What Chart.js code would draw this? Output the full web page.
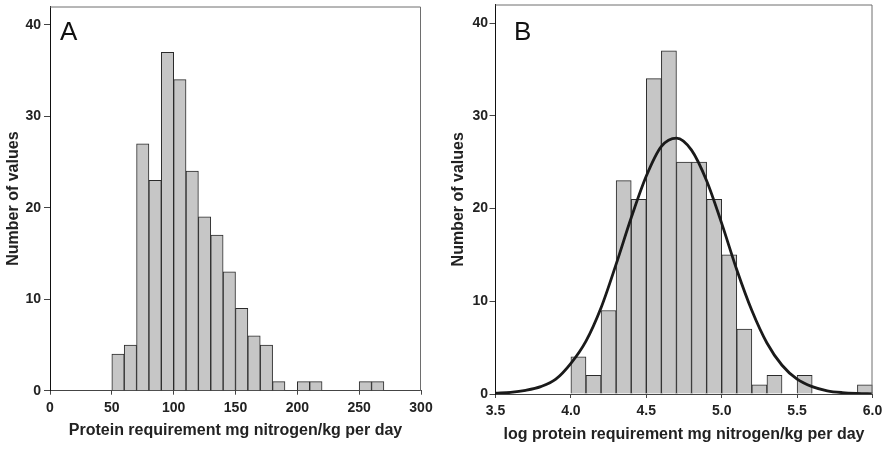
<!DOCTYPE html>
<html>
<head>
<meta charset="utf-8">
<script src="https://cdn.jsdelivr.net/npm/chart.js@4.4.1/dist/chart.umd.min.js"></script>
<style>
    body { margin: 0; background: #fff; }
    #contenedor { position: relative; width: 885px; height: 449px; }
    canvas { position: absolute; top: 0; }
    #graficaA { left: 0; }
    #graficaB { left: 442px; }
</style>
</head>
<body>
<div id="contenedor">
    <canvas id="graficaA" width="442" height="449"></canvas>
    <canvas id="graficaB" width="443" height="449"></canvas>
</div>
<script>
// Panel A: centros de cada intervalo (ancho 10) y numero de valores
const centrosA = [55, 65, 75, 85, 95, 105, 115, 125, 135, 145, 155, 165, 175, 185, 205, 215, 255, 265];
const conteosA = [4, 5, 27, 23, 37, 34, 24, 19, 17, 13, 9, 6, 5, 1, 1, 1, 1, 1];
const ejeXA = [0, 300, 50];   // min, max, paso

// Panel B: log del requerimiento (ancho 0.1)
const centrosB = [4.05, 4.15, 4.25, 4.35, 4.45, 4.55, 4.65, 4.75, 4.85, 4.95, 5.05, 5.15, 5.25, 5.35, 5.55, 5.95];
const conteosB = [4, 2, 9, 23, 21, 34, 37, 25, 25, 21, 15, 7, 1, 2, 2, 1];
const ejeXB = [3.5, 6.0, 0.5];

// Curva normal ajustada
const curvaX = [3.5, 3.6, 3.7, 3.8, 3.9, 4.0, 4.1, 4.2, 4.3, 4.4, 4.5, 4.6, 4.7, 4.8, 4.9, 5.0, 5.1, 5.2, 5.3, 5.4, 5.5, 5.6, 5.7, 5.8, 5.9, 6.0];
const curvaY = [0.08, 0.18, 0.4, 0.8, 1.6, 3.3, 5.7, 9.3, 14.0, 19.0, 23.5, 26.7, 27.6, 26.3, 23.0, 18.4, 13.4, 9.0, 5.5, 3.1, 1.6, 0.8, 0.35, 0.15, 0.06, 0.02];

const ejeY = [0, 42, 10];
const tituloY = "Number of values";

window.onload = function(){

    Chart.defaults.font.family = "'Liberation Sans', Arial, sans-serif";
    Chart.defaults.color = "#222";

    /**
     * Plugin marco: dibuja el borde gris superior y derecho del area
     */
    const pluginMarco = {
        id: 'marco',
        afterDraw(chart){
            const ctx = chart.ctx;
            const a = chart.chartArea;
            ctx.save();
            ctx.strokeStyle = "#6e6e6e";
            ctx.lineWidth = 1;
            ctx.beginPath();
            ctx.moveTo(a.left, a.top + 0.5);
            ctx.lineTo(a.right - 0.5, a.top + 0.5);
            ctx.lineTo(a.right - 0.5, a.bottom);
            ctx.stroke();
            // Letra del panel
            const op = chart.options.plugins.letra;
            ctx.fillStyle = "#111";
            ctx.font = "26px 'Liberation Sans', Arial, sans-serif";
            ctx.textBaseline = "alphabetic";
            ctx.fillText(op.texto, a.left + op.dx, 40);
            ctx.restore();
        }
    };

    /**
     * Funcion crearEscalas
     * Genera las escalas x e y con anchos fijos para que el area coincida
     */
    function crearEscalas(eje, tituloX, c){
        return {
            x: {
                type: 'linear',
                min: eje[0],
                max: eje[1],
                offset: false,
                ticks: {
                    stepSize: eje[2],
                    padding: 5,
                    maxRotation: 0,
                    font: { size: 14, weight: 'bold' },
                    callback: function(v){ return c.decimales ? v.toFixed(1) : v; }
                },
                grid: { offset: false, drawOnChartArea: false, tickLength: 4, tickColor: "#444" },
                border: { color: "#444", width: 1 },
                title: {
                    display: true,
                    text: tituloX,
                    font: { size: 16, weight: 'bold' },
                    padding: { top: 0, bottom: c.pieTitulo }
                },
                afterFit: function(s){
                    s.height = c.altoX;
                    s.paddingLeft = 0;
                    s.paddingRight = 0;
                }
            },
            y: {
                min: ejeY[0],
                max: ejeY[1],
                ticks: {
                    stepSize: ejeY[2],
                    includeBounds: false,
                    padding: c.padY,
                    font: { size: 14, weight: 'bold' }
                },
                grid: { drawOnChartArea: false, tickLength: 6, tickColor: "#444" },
                border: { color: "#111", width: 1 },
                title: {
                    display: true,
                    text: tituloY,
                    font: { size: 16, weight: 'bold' },
                    padding: { top: c.izqTitulo, bottom: 0 }
                },
                afterFit: function(s){
                    s.width = c.anchoY;
                    s.paddingTop = 0;
                    s.paddingBottom = 0;
                }
            }
        };
    }

    function datosBarras(xs, ys){
        let datos = [];
        for (let i = 0; i < xs.length; i++) {
            datos.push({x: xs[i], y: ys[i]});
        }
        return datos;
    }

    const estiloBarras = {
        type: 'bar',
        backgroundColor: "#c6c6c6",
        borderColor: "#2b2b2b",
        borderWidth: 1,
        barPercentage: 1,
        categoryPercentage: 1,
        order: 1
    };

    // Grafica A
    new Chart(document.getElementById("graficaA"), {
        type: 'bar',
        data: {
            datasets: [Object.assign({ data: datosBarras(centrosA, conteosA) }, estiloBarras)]
        },
        options: {
            responsive: false,
            animation: false,
            layout: { padding: { left: 0, top: 6.5, right: 21, bottom: 0 } },
            plugins: {
                legend: { display: false },
                tooltip: { enabled: false },
                letra: { texto: "A", dx: 10 }
            },
            scales: crearEscalas(ejeXA, "Protein requirement mg nitrogen/kg per day",
                { altoX: 58.3, pieTitulo: 8.9, anchoY: 50, izqTitulo: 3.7, padY: 3, decimales: false })
        },
        plugins: [pluginMarco]
    });

    // Grafica B, con la curva normal encima
    new Chart(document.getElementById("graficaB"), {
        type: 'bar',
        data: {
            datasets: [{
                type: 'line',
                data: datosBarras(curvaX, curvaY),
                borderColor: "#1a1a1a",
                borderWidth: 2.8,
                pointRadius: 0,
                cubicInterpolationMode: 'monotone',
                fill: false,
                order: 0
            }, Object.assign({ data: datosBarras(centrosB, conteosB) }, estiloBarras)]
        },
        options: {
            responsive: false,
            animation: false,
            layout: { padding: { left: 0, top: 4.5, right: 12.5, bottom: 0 } },
            plugins: {
                legend: { display: false },
                tooltip: { enabled: false },
                letra: { texto: "B", dx: 18.5 }
            },
            scales: crearEscalas(ejeXB, "log protein requirement mg nitrogen/kg per day",
                { altoX: 55, pieTitulo: 4.4, anchoY: 53.5, izqTitulo: 7.1, padY: 1.5, decimales: true })
        },
        plugins: [pluginMarco]
    });
}
</script>
</body>
</html>
